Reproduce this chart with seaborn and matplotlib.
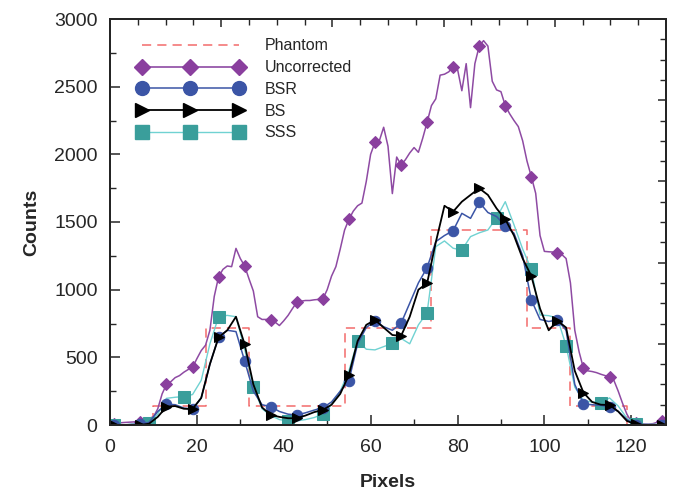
import numpy as np
import pandas as pd
import matplotlib
matplotlib.use("Agg")
import matplotlib.pyplot as plt
from matplotlib.lines import Line2D
from matplotlib.ticker import MultipleLocator, NullFormatter
import seaborn as sns

# ---------------- data ----------------
# Phantom step profile (edges and levels)
phantom_x = [0, 10, 22, 32, 54, 74, 96, 106, 119, 128]
phantom_y = [0, 140, 720, 140, 720, 1440, 720, 140, 0, 0]

# Uncorrected, every pixel 0..127
unc_x = list(range(0, 128))
unc_y = [5, 10, 15, 18, 20, 22, 24, 25, 35, 50,
         60, 120, 230, 300, 320, 350, 365, 390, 410, 426,
         490, 550, 590, 700, 950, 1096, 1150, 1175, 1170, 1305,
         1230, 1175, 1080, 990, 800, 780, 780, 776, 760, 735,
         770, 810, 860, 907, 915, 920, 920, 925, 928, 931,
         1000, 1100, 1170, 1300, 1440, 1520, 1580, 1620, 1640, 1800,
         2000, 2089, 2100, 2200, 2060, 1710, 1980, 1922, 1960, 2010,
         2050, 2015, 2120, 2237, 2360, 2410, 2585, 2592, 2610, 2648,
         2630, 2470, 2670, 2345, 2670, 2800, 2840, 2800, 2540, 2476,
         2463, 2360, 2300, 2250, 2205, 2100, 1950, 1835, 1712, 1400,
         1283, 1280, 1278, 1270, 1260, 1230, 1050, 700, 540, 419,
         400, 395, 387, 375, 365, 357, 330, 250, 160, 80,
         25, 15, 10, 8, 7, 10, 20, 32]

# BSR, BS, SSS on odd pixels 1..127
odd_x = list(range(1, 128, 2))
bsr_y = [0, 0, 5, 5, 20, 100, 153, 150, 125, 118,          # 1..19
         200, 450, 648, 700, 690, 473, 250, 150, 135, 100,  # 21..39
         80, 74, 90, 110, 128, 170, 250, 327, 600, 720,     # 41..59
         771, 726, 700, 751, 900, 1050, 1163, 1355, 1400, 1436,  # 61..79
         1564, 1527, 1646, 1570, 1540, 1473, 1417, 1250, 924, 780,  # 81..99
         765, 776, 700, 300, 155, 150, 145, 135, 100, 40,   # 101..119
         0, 0, 0, 0]                                        # 121..127
bs_y = [0, 0, 0, 0, 10, 60, 135, 140, 120, 118,
        200, 450, 648, 700, 800, 596, 300, 130, 74, 60,
        50, 50, 70, 95, 111, 150, 230, 370, 620, 740,
        776, 720, 665, 658, 800, 1000, 1047, 1350, 1620, 1577,
        1650, 1700, 1749, 1700, 1600, 1520, 1400, 1230, 1101, 860,
        700, 771, 720, 400, 239, 170, 150, 148, 100, 30,
        5, 0, 0, 0]
sss_y = [0, 0, 5, 10, 15, 80, 197, 205, 210, 225,
         330, 600, 800, 810, 800, 560, 280, 120, 70, 40,
         30, 30, 40, 55, 80, 150, 250, 400, 623, 560,
         555, 579, 603, 640, 600, 740, 830, 1318, 1360, 1306,
         1293, 1392, 1420, 1441, 1532, 1650, 1480, 1300, 1151, 813,
         808, 790, 586, 280, 180, 170, 165, 200, 140, 50,
         7, 5, 5, 5]

# ---------------- style ----------------
sns.set_theme(style="ticks")
plt.rcParams["font.family"] = ["Liberation Sans", "DejaVu Sans"]
plt.rcParams["xtick.direction"] = "in"
plt.rcParams["ytick.direction"] = "in"

C_PH = "#f26b6b"
C_UNC_L = "#8e4aa3"
C_UNC_M = "#8a3f9e"
C_BSR = "#3b55a6"
C_BS = "#000000"
C_SSS_L = "#70d2d2"
C_SSS_M = "#3a9e9b"

fig = plt.figure(figsize=(6.76, 4.91), dpi=100)
ax = fig.add_axes([110 / 676, 66 / 491, 556 / 676, 406 / 491])

unc_mark = [i for i, x in enumerate(unc_x) if x % 6 == 1]
odd_mark6 = [i for i, x in enumerate(odd_x) if x % 6 == 1]
odd_mark8 = [i for i, x in enumerate(odd_x) if x % 8 == 1]

df_ph = pd.DataFrame({"x": phantom_x, "y": phantom_y})
sns.lineplot(data=df_ph, x="x", y="y", ax=ax, color=C_PH, lw=1.1,
             linestyle=(0, (6, 4)), drawstyle="steps-post",
             estimator=None, sort=False)

sns.lineplot(x=unc_x, y=unc_y, ax=ax, color=C_UNC_L, lw=1.1, estimator=None,
             marker="D", markersize=6.5, markevery=unc_mark,
             markerfacecolor=C_UNC_M, markeredgecolor=C_UNC_M)
sns.lineplot(x=odd_x, y=sss_y, ax=ax, color=C_SSS_L, lw=1.0, estimator=None,
             marker="s", markersize=9, markevery=odd_mark8,
             markerfacecolor=C_SSS_M, markeredgecolor=C_SSS_M)
sns.lineplot(x=odd_x, y=bsr_y, ax=ax, color=C_BSR, lw=1.1, estimator=None,
             marker="o", markersize=7.5, markevery=odd_mark6,
             markerfacecolor=C_BSR, markeredgecolor=C_BSR)
sns.lineplot(x=odd_x, y=bs_y, ax=ax, color=C_BS, lw=1.3, estimator=None,
             marker=">", markersize=7, markevery=odd_mark6,
             markerfacecolor=C_BS, markeredgecolor=C_BS)

ax.set_xlim(0, 128)
ax.set_ylim(0, 3000)
ax.xaxis.set_major_locator(MultipleLocator(20))
ax.xaxis.set_minor_locator(MultipleLocator(10))
ax.yaxis.set_major_locator(MultipleLocator(500))
ax.yaxis.set_minor_locator(MultipleLocator(250))
ax.tick_params(which="major", length=7, width=1.1, labelsize=14)
ax.tick_params(axis="x", which="major", pad=10)
ax.tick_params(axis="y", which="major", pad=9)
ax.tick_params(which="minor", length=4, width=1.0)
ax.set_xlabel("Pixels", fontsize=14, fontweight="bold", labelpad=13)
ax.set_ylabel("Counts", fontsize=14, fontweight="bold", labelpad=10)
for s in ax.spines.values():
    s.set_linewidth(1.4)
    s.set_color("black")

handles = [
    Line2D([], [], color=C_PH, lw=1.1, linestyle=(0, (6, 4))),
    Line2D([], [], color=C_UNC_L, lw=1.2, marker="D", markersize=8,
           markerfacecolor=C_UNC_M, markeredgecolor=C_UNC_M),
    Line2D([], [], color=C_BSR, lw=1.1, marker="o", markersize=10,
           markerfacecolor=C_BSR, markeredgecolor=C_BSR),
    Line2D([], [], color=C_BS, lw=1.3, marker=">", markersize=10,
           markerfacecolor=C_BS, markeredgecolor=C_BS),
    Line2D([], [], color=C_SSS_L, lw=1.0, marker="s", markersize=10,
           markerfacecolor=C_SSS_M, markeredgecolor=C_SSS_M),
]
labels = ["Phantom", "Uncorrected", "BSR", "BS", "SSS"]
ax.legend(handles, labels, numpoints=3, frameon=False, fontsize=11.5,
          loc="upper left", bbox_to_anchor=(129 / 676, 1 - 30.5 / 491),
          bbox_transform=fig.transFigure, borderpad=0,
          handlelength=6.7, handletextpad=1.3, labelspacing=0.42)

# secondary top / right axes (unlabelled ticks)
axt = ax.twiny()
axt.set_xlim(0, 1)
axt.xaxis.set_major_locator(MultipleLocator(0.2))
axt.xaxis.set_minor_locator(MultipleLocator(0.05))
axt.xaxis.set_major_formatter(NullFormatter())
axt.tick_params(which="major", length=6, width=1.1)
axt.tick_params(which="minor", length=4, width=1.0)
axr = ax.twinx()
axr.set_ylim(0, 1)
axr.yaxis.set_major_locator(MultipleLocator(0.2))
axr.yaxis.set_minor_locator(MultipleLocator(0.05))
axr.yaxis.set_major_formatter(NullFormatter())
axr.tick_params(which="major", length=6, width=1.1)
axr.tick_params(which="minor", length=4, width=1.0)
for a in (axt, axr):
    for s in a.spines.values():
        s.set_linewidth(1.4)

fig.savefig("out.png", dpi=100)
